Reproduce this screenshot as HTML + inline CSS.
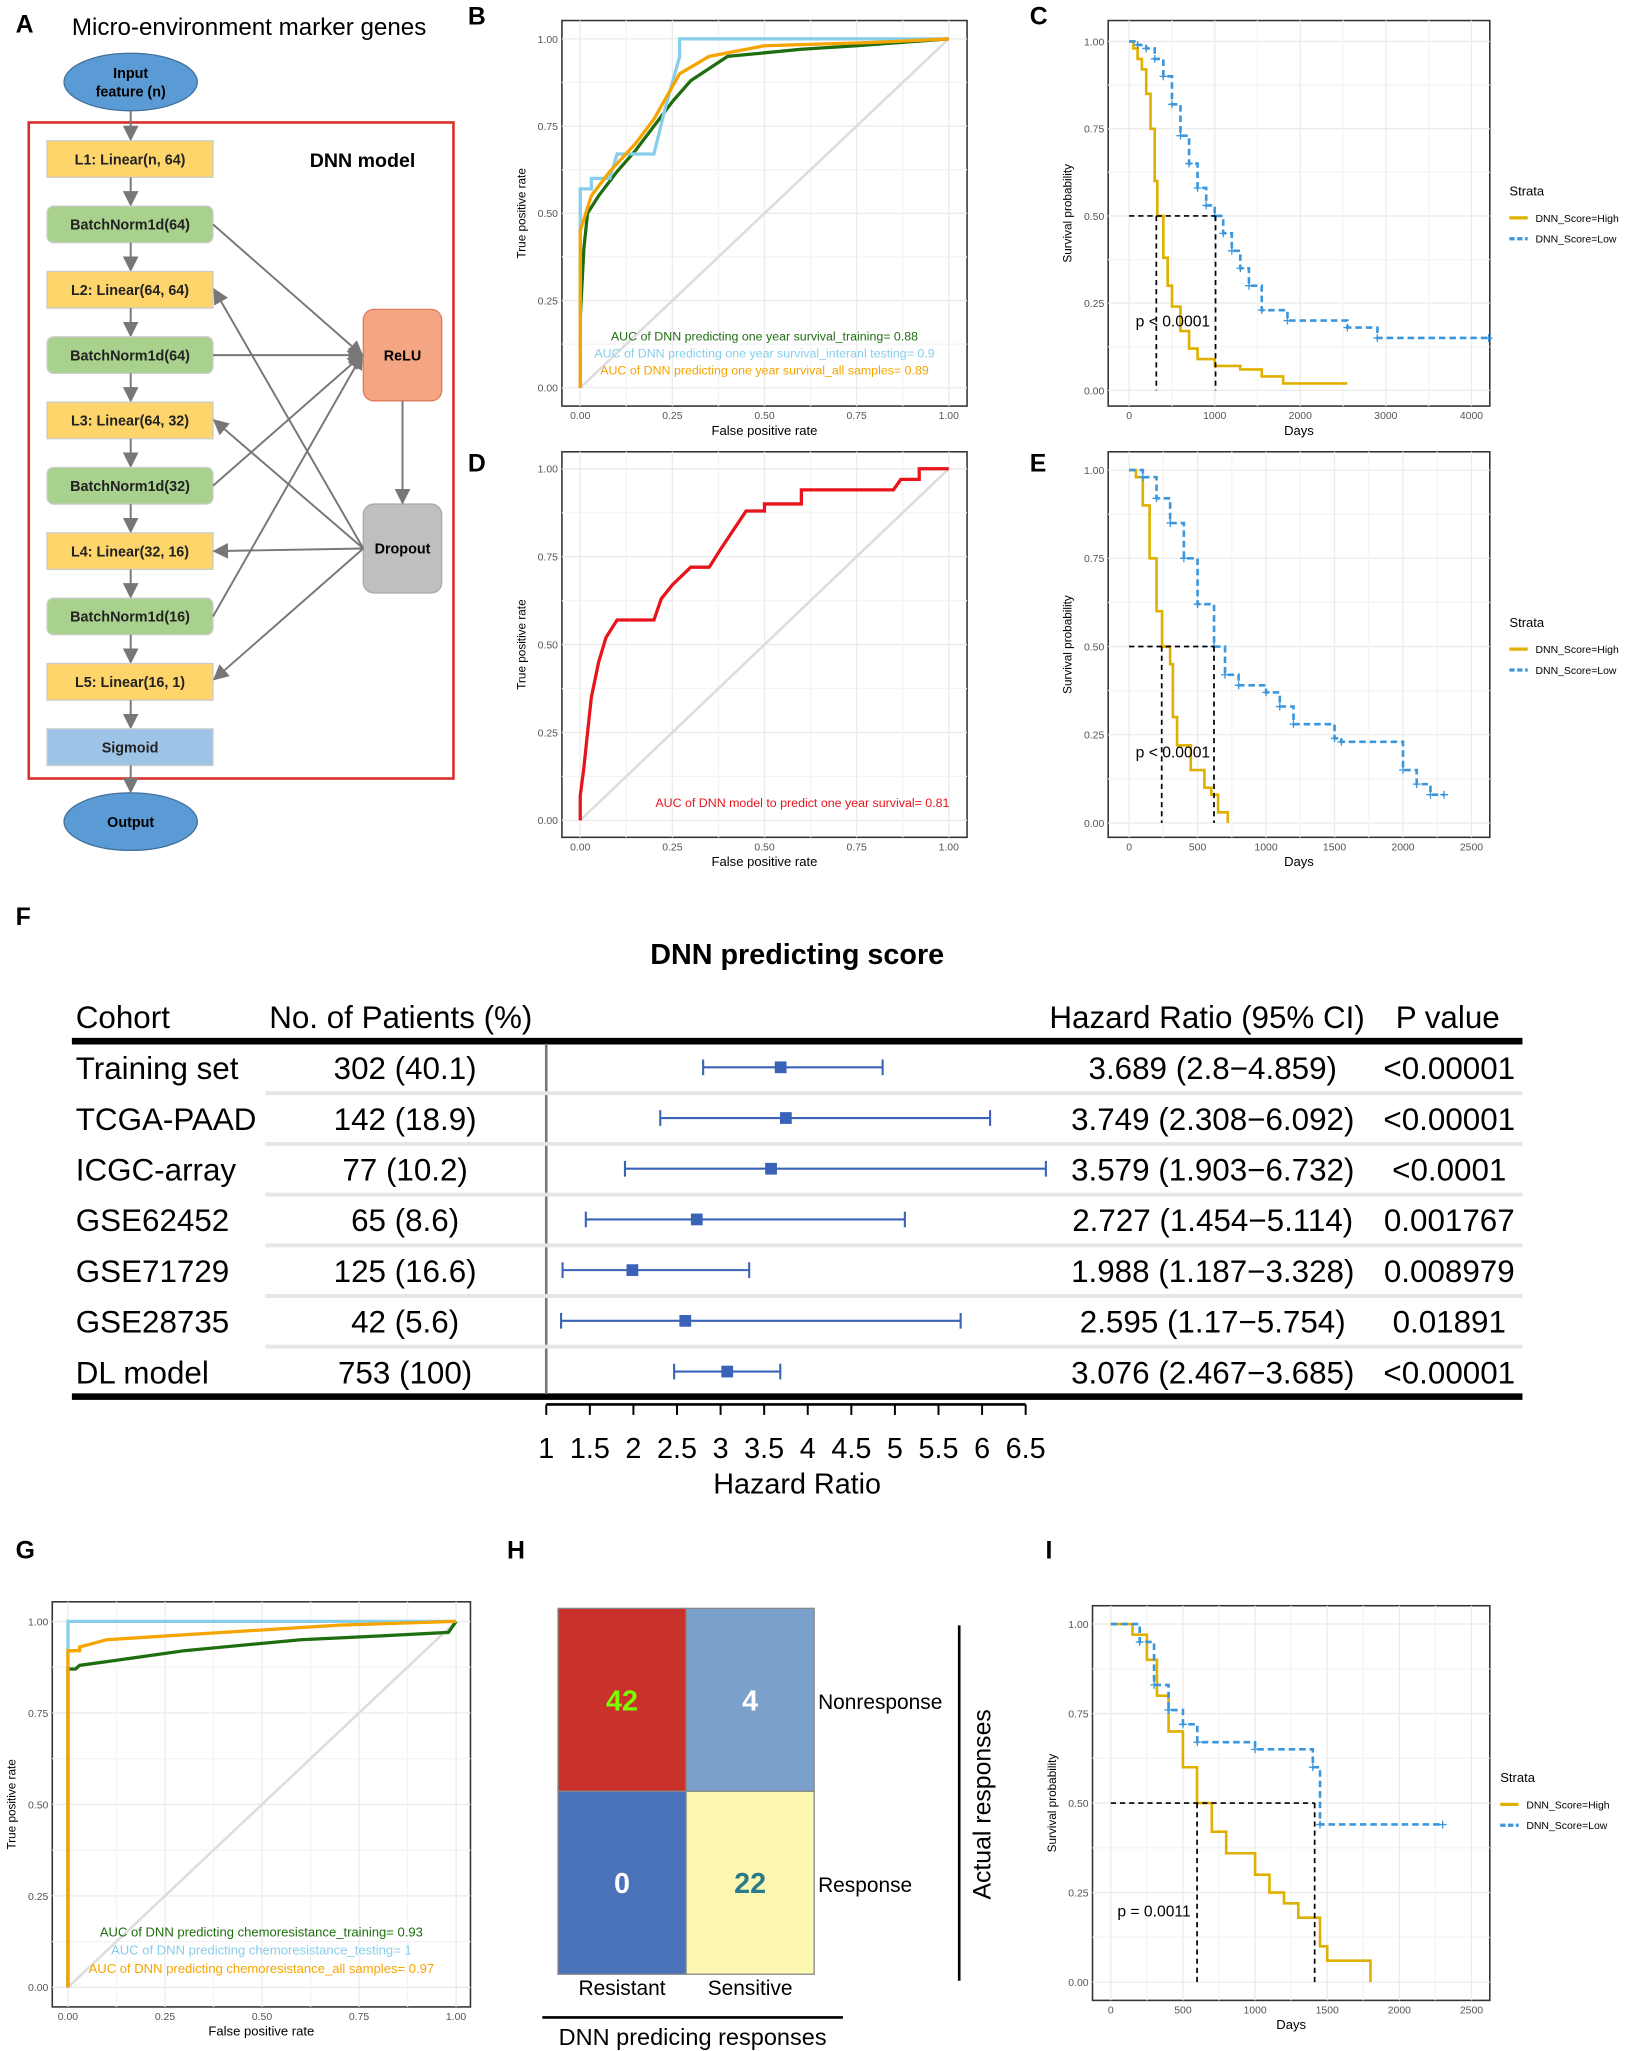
<!DOCTYPE html>
<html><head><meta charset="utf-8"><style>
html,body{margin:0;padding:0;background:#fff;}
svg{display:block;font-family:"Liberation Sans",Arial,sans-serif;}
</style></head><body>
<svg id="fig" width="1627" height="2051" viewBox="0 0 1245 1568" xmlns="http://www.w3.org/2000/svg">
<defs><marker id="ar" markerWidth="8" markerHeight="8" refX="7" refY="4" orient="auto"><path d="M0,0L8,4L0,8z" fill="#777"/></marker></defs>
<g id="panelA"></g>
<g id="plots"></g>
</svg>
<script>
// ---------- DATA ----------
const rocB_train = [[0,0],[0,.2],[.01,.4],[.02,.5],[.05,.55],[.1,.62],[.15,.68],[.2,.75],[.25,.82],[.3,.88],[.4,.95],[.6,.97],[.75,.98],[1,1]];
const rocB_test = [[0,0],[0,.57],[.03,.57],[.03,.6],[.08,.6],[.1,.67],[.2,.67],[.23,.8],[.27,.95],[.27,1],[1,1]];
const rocB_all = [[0,0],[0,.45],[.03,.55],[.08,.62],[.15,.7],[.2,.77],[.27,.9],[.35,.95],[.5,.98],[.8,.99],[1,1]];
const rocD = [[0,0],[0,.07],[.01,.15],[.02,.25],[.03,.35],[.05,.45],[.07,.52],[.1,.57],[.2,.57],[.22,.63],[.25,.67],[.3,.72],[.35,.72],[.38,.77],[.45,.88],[.5,.88],[.5,.9],[.6,.9],[.6,.94],[.85,.94],[.87,.97],[.92,.97],[.92,1],[1,1]];
const rocG_test = [[0,0],[0,1],[1,1]];
const rocG_all = [[0,0],[0,.92],[.03,.92],[.03,.93],[.1,.95],[.25,.96],[.7,.99],[1,1]];
const rocG_train = [[0,0],[0,.87],[.02,.87],[.03,.88],[.1,.89],[.3,.92],[.6,.95],[.8,.96],[.98,.97],[1,1]];
const kmC_high = [[0,1],[50,.98],[100,.95],[150,.92],[200,.85],[250,.75],[300,.6],[330,.5],[400,.38],[450,.3],[500,.24],[600,.17],[700,.12],[800,.09],[1000,.07],[1300,.06],[1550,.04],[1800,.02],[2550,.02]];
const kmC_low = [[0,1],[100,.99],[200,.98],[300,.95],[400,.9],[500,.82],[600,.73],[700,.65],[800,.58],[900,.53],[1000,.5],[1100,.45],[1200,.4],[1300,.35],[1400,.3],[1550,.23],[1850,.2],[2550,.18],[2900,.15],[4200,.15]];
const kmE_high = [[0,1],[50,.98],[100,.9],[150,.75],[200,.6],[240,.5],[300,.45],[320,.3],[350,.22],[450,.15],[550,.1],[600,.08],[650,.03],[720,0]];
const kmE_low = [[0,1],[100,.98],[200,.92],[300,.85],[400,.75],[500,.62],[620,.5],[700,.42],[800,.39],[1000,.37],[1100,.33],[1200,.28],[1500,.24],[1550,.23],[2000,.15],[2100,.11],[2200,.08],[2300,.08]];
const kmI_high = [[0,1],[150,.97],[250,.9],[320,.8],[400,.7],[500,.6],[598,.5],[700,.42],[800,.36],[1000,.3],[1100,.25],[1200,.22],[1300,.18],[1450,.1],[1500,.06],[1800,0]];
const kmI_low = [[0,1],[200,.95],[300,.83],[400,.76],[500,.72],[600,.67],[1000,.65],[1400,.6],[1450,.44],[2300,.44]];
const cohorts = ["Training set","TCGA-PAAD","ICGC-array","GSE62452","GSE71729","GSE28735","DL model"];
const patients = ["302 (40.1)","142 (18.9)","77 (10.2)","65 (8.6)","125 (16.6)","42 (5.6)","753 (100)"];
const hr = [3.689,3.749,3.579,2.727,1.988,2.595,3.076];
const hrLo = [2.8,2.308,1.903,1.454,1.187,1.17,2.467];
const hrHi = [4.859,6.092,6.732,5.114,3.328,5.754,3.685];
const hrText = ["3.689 (2.8−4.859)","3.749 (2.308−6.092)","3.579 (1.903−6.732)","2.727 (1.454−5.114)","1.988 (1.187−3.328)","2.595 (1.17−5.754)","3.076 (2.467−3.685)"];
const pvals = ["<0.00001","<0.00001","<0.0001","0.001767","0.008979","0.01891","<0.00001"];
const hrTicks = [1,1.5,2,2.5,3,3.5,4,4.5,5,5.5,6,6.5];
const confVals = [42,4,0,22];

// ---------- helpers ----------
const NS="http://www.w3.org/2000/svg";
function el(tag,attrs,parent,text){const e=document.createElementNS(NS,tag);for(const k in attrs)e.setAttribute(k,attrs[k]);if(text!==undefined)e.textContent=text;(parent||document.getElementById('plots')).appendChild(e);return e;}
function txt(x,y,s,size,opt,parent){opt=opt||{};const a={x:x,y:y,'font-size':size,fill:opt.fill||'#000'};if(opt.anchor)a['text-anchor']=opt.anchor;if(opt.weight)a['font-weight']=opt.weight;if(opt.rot)a.transform='rotate('+opt.rot+' '+x+' '+y+')';return el('text',a,parent,s);}

// ---------- panel labels ----------
[["A",12,24],["B",358,18],["C",788,18],["D",358,360],["E",788,360],["F",12,707],["G",12,1192],["H",388,1192],["I",800,1192]].forEach(p=>{
 const t=txt(p[1],p[2],p[0],19,{weight:'bold'});
 
 
});

// ---------- Panel A ----------
(function(){
 const g=document.getElementById('panelA');
 txt(55,26,"Micro-environment marker genes",18.5,{},g);
 const inp=el('ellipse',{cx:100,cy:62,rx:51,ry:22,fill:'#5b9bd5',stroke:'#41719c'},g);
 
 txt(100,59,"Input",11,{anchor:'middle',weight:'bold'},g);txt(100,73,"feature (n)",11,{anchor:'middle',weight:'bold'},g);
 const box=el('rect',{x:22,y:93,width:325,height:502,fill:'none',stroke:'#d9302c','stroke-width':2},g);
 
 txt(237,127,"DNN model",15,{weight:'bold'},g);
 const layers=[["L1: Linear(n, 64)",'#fdd56a'],["BatchNorm1d(64)",'#a9d18e'],["L2: Linear(64, 64)",'#fdd56a'],["BatchNorm1d(64)",'#a9d18e'],["L3: Linear(64, 32)",'#fdd56a'],["BatchNorm1d(32)",'#a9d18e'],["L4: Linear(32, 16)",'#fdd56a'],["BatchNorm1d(16)",'#a9d18e'],["L5: Linear(16, 1)",'#fdd56a'],["Sigmoid",'#9dc3e6']];
 el('line',{x1:100,y1:84,x2:100,y2:106,stroke:'#777','stroke-width':1.5,'marker-end':'url(#ar)'},g);
 layers.forEach((l,i)=>{const y=107+i*50;
  const r=el('rect',{x:36,y:y,width:127,height:28,rx:l[1]=='#a9d18e'?5:0,fill:l[1],stroke:'#ccc'},g);
  
  txt(99.5,y+18,l[0],11,{anchor:'middle',weight:'bold',fill:'#222'},g);
  if(i<9) el('line',{x1:100,y1:y+28,x2:100,y2:y+49,stroke:'#777','stroke-width':1.5,'marker-end':'url(#ar)'},g);
 });
 el('line',{x1:100,y1:585,x2:100,y2:605,stroke:'#777','stroke-width':1.5,'marker-end':'url(#ar)'},g);
 const out=el('ellipse',{cx:100,cy:628,rx:51,ry:22,fill:'#5b9bd5',stroke:'#41719c'},g);
 
 txt(100,632,"Output",11,{anchor:'middle',weight:'bold'},g);
 const relu=el('rect',{x:278,y:236,width:60,height:70,rx:8,fill:'#f4a582',stroke:'#e07a5f'},g);
 
 txt(308,275,"ReLU",11,{anchor:'middle',weight:'bold'},g);
 const dr=el('rect',{x:278,y:385,width:60,height:68,rx:8,fill:'#bfbfbf',stroke:'#aaa'},g);
 
 txt(308,423,"Dropout",11,{anchor:'middle',weight:'bold'},g);
 [171,271,371,471].forEach(y=>el('line',{x1:163,y1:y,x2:277,y2:271,stroke:'#777','stroke-width':1.5,'marker-end':'url(#ar)'},g));
 [221,321,421,519].forEach(y=>el('line',{x1:278,y1:419,x2:164,y2:y,stroke:'#777','stroke-width':1.5,'marker-end':'url(#ar)'},g));
 el('line',{x1:308,y1:306,x2:308,y2:384,stroke:'#777','stroke-width':1.5,'marker-end':'url(#ar)'},g);
})();

// ---------- generic plot frame ----------
function frame(name,fx,fy,fw,fh,x0,x1,y1px,y0px,xt,xmax,xlab,ylab){
 const g=el('g',{});
 
 el('rect',{x:fx,y:fy,width:fw,height:fh,fill:'#fff',stroke:'#333','stroke-width':1.2},g);
 const X=v=>x0+(x1-x0)*v/xmax, Y=v=>y0px-(y0px-y1px)*v;
 [0,.25,.5,.75,1].forEach(v=>{el('line',{x1:fx,x2:fx+fw,y1:Y(v),y2:Y(v),stroke:'#ebebeb'},g);
   txt(fx-3,Y(v)+3,v.toFixed(2),8,{anchor:'end',fill:'#555'},g);});
 [.125,.375,.625,.875].forEach(v=>el('line',{x1:fx,x2:fx+fw,y1:Y(v),y2:Y(v),stroke:'#f4f4f4'},g));
 xt.forEach(v=>{el('line',{x1:X(v),x2:X(v),y1:fy,y2:fy+fh,stroke:'#ebebeb'},g);
   txt(X(v),fy+fh+10,String(v),8,{anchor:'middle',fill:'#555'},g);});
 for(let i=0;i<xt.length-1;i++){const m=(xt[i]+xt[i+1])/2;el('line',{x1:X(m),x2:X(m),y1:fy,y2:fy+fh,stroke:'#f4f4f4'},g);}
 const xl=txt(fx+fw/2,fy+fh+22,xlab,10,{anchor:'middle'},g);
 const yl=txt(fx-28,fy+fh/2,ylab,9,{anchor:'middle',rot:-90},g);
 return {g,X,Y};
}
function line(p,pts,color,w,name,dash){
 const d=pts.map((q,i)=>(i?'L':'M')+p.X(q[0]).toFixed(1)+','+p.Y(q[1]).toFixed(1)).join('');
 const e=el('path',{d:d,fill:'none',stroke:color,'stroke-width':w},p.g);
 if(dash)e.setAttribute('stroke-dasharray',dash);
 return e;
}
function step(p,pts,color,name,dash,cens){
 let d='M'+p.X(pts[0][0])+','+p.Y(pts[0][1]);
 for(let i=1;i<pts.length;i++){d+='L'+p.X(pts[i][0]).toFixed(1)+','+p.Y(pts[i-1][1]).toFixed(1)+'L'+p.X(pts[i][0]).toFixed(1)+','+p.Y(pts[i][1]).toFixed(1);}
 const e=el('path',{d:d,fill:'none',stroke:color,'stroke-width':2},p.g);
 if(dash)e.setAttribute('stroke-dasharray',dash);
 
 if(cens)pts.slice(1).forEach(q=>{const x=p.X(q[0]),y=p.Y(q[1]);el('path',{d:`M${x-3},${y}h6M${x},${y-3}v6`,stroke:color,'stroke-width':1},p.g);});
}
function median(p,a,b){
 el('path',{d:`M${p.X(0)},${p.Y(.5)}H${p.X(b)}M${p.X(a)},${p.Y(.5)}V${p.Y(0)}M${p.X(b)},${p.Y(.5)}V${p.Y(0)}`,fill:'none',stroke:'#000','stroke-width':1.3,'stroke-dasharray':'4,3'},p.g);
}
function legend(x,y){
 const g=el('g',{});
 txt(x,y,"Strata",10,{},g);
 el('line',{x1:x,x2:x+14,y1:y+17,y2:y+17,stroke:'#e0b000','stroke-width':2.5},g);
 txt(x+20,y+20,"DNN_Score=High",8,{},g);
 el('line',{x1:x,x2:x+14,y1:y+33,y2:y+33,stroke:'#3a96dd','stroke-width':2.5,'stroke-dasharray':'4,2'},g);
 txt(x+20,y+36,"DNN_Score=Low",8,{},g);
}
const ORANGE='#f5a400',GREEN='#1e6e10',LBLUE='#87ceeb',KMY='#e0b000',KMB='#3a96dd';
function fmtX(g){g.querySelectorAll('text').forEach(t=>{if(['0','0.25','0.5','0.75','1'].includes(t.textContent)&&t.getAttribute('text-anchor')==='middle')t.textContent=(+t.textContent).toFixed(2);});}

// B
let p=frame('roc-panel-b',430,15,310,295,444,726,29,296,[0,.25,.5,.75,1],1,"False positive rate","True positive rate");
fmtX(p.g);
line(p,[[0,0],[1,1]],'#ddd',2,'diagonal');
line(p,rocB_train,GREEN,2.5,'roc-training');line(p,rocB_test,LBLUE,2.5,'roc-testing');line(p,rocB_all,ORANGE,2.5,'roc-all');
txt(585,260,"AUC of DNN predicting one year survival_training= 0.88",9.5,{anchor:'middle',fill:GREEN},p.g);
txt(585,273,"AUC of DNN predicting one year survival_interanl testing= 0.9",9.5,{anchor:'middle',fill:LBLUE},p.g);
txt(585,286,"AUC of DNN predicting one year survival_all samples= 0.89",9.5,{anchor:'middle',fill:ORANGE},p.g);

// C
p=frame('km-panel-c',848,15,292,295,864,1126,31,298,[0,1000,2000,3000,4000],4000,"Days","Survival probability");
step(p,kmC_high,KMY,'km-high');step(p,kmC_low,KMB,'km-low','5,3',true);median(p,318,1010);
txt(869,249,"p < 0.0001",12,{},p.g);legend(1155,149);

// D
p=frame('roc-panel-d',430,345,310,295,444,726,358,627,[0,.25,.5,.75,1],1,"False positive rate","True positive rate");
fmtX(p.g);line(p,[[0,0],[1,1]],'#ddd',2,'diagonal');line(p,rocD,'#e8141c',2.5,'roc-curve');
txt(614,617,"AUC of DNN model to predict one year survival= 0.81",9.5,{anchor:'middle',fill:'#e8141c'},p.g);

// E
p=frame('km-panel-e',848,345,292,295,864,1126,359,629,[0,500,1000,1500,2000,2500],2500,"Days","Survival probability");
step(p,kmE_high,KMY,'km-high');step(p,kmE_low,KMB,'km-low','5,3',true);median(p,238,620);
txt(869,579,"p < 0.0001",12,{},p.g);legend(1155,479);

// G
p=frame('roc-panel-g',40,1225,320,310,52,349,1240,1520,[0,.25,.5,.75,1],1,"False positive rate","True positive rate");
fmtX(p.g);line(p,[[0,0],[1,1]],'#ddd',2,'diagonal');
line(p,rocG_test,LBLUE,2.5,'roc-testing');line(p,rocG_train,GREEN,2.5,'roc-training');line(p,rocG_all,ORANGE,2.5,'roc-all');
txt(200,1481,"AUC of DNN predicting chemoresistance_training= 0.93",10,{anchor:'middle',fill:GREEN},p.g);
txt(200,1495,"AUC of DNN predicting chemoresistance_testing= 1",10,{anchor:'middle',fill:LBLUE},p.g);
txt(200,1509,"AUC of DNN predicting chemoresistance_all samples= 0.97",10,{anchor:'middle',fill:ORANGE},p.g);

// I
p=frame('km-panel-i',836,1228,304,302,850,1126,1242,1516,[0,500,1000,1500,2000,2500],2500,"Days","Survival probability");
step(p,kmI_high,KMY,'km-high');step(p,kmI_low,KMB,'km-low','5,3',true);median(p,598,1413);
txt(855,1466,"p = 0.0011",12,{},p.g);legend(1148,1363);

// ---------- F forest ----------
(function(){
 const g=el('g',{});
 const t=txt(610,737,"DNN predicting score",22,{anchor:'middle',weight:'bold'},g);
 txt(58,786,"Cohort",24,{},g);txt(206,786,"No. of Patients (%)",24,{},g);txt(803,786,"Hazard Ratio (95% CI)",24,{},g);txt(1068,786,"P value",24,{},g);
 el('line',{x1:55,x2:1165,y1:796,y2:796,stroke:'#000','stroke-width':5},g);
 el('line',{x1:55,x2:1165,y1:1068,y2:1068,stroke:'#000','stroke-width':5},g);
 const X=v=>418+(v-1)*66.7;
 el('line',{x1:418,x2:418,y1:798,y2:1066,stroke:'#777','stroke-width':2},g);
 cohorts.forEach((c,i)=>{const y=816+i*38.8;
  if(i>0)el('line',{x1:203,x2:1165,y1:y-19,y2:y-19,stroke:'#e6e6e6','stroke-width':3},g);
  txt(58,y+9,c,24,{},g);txt(310,y+9,patients[i],24,{anchor:'middle'},g);
  txt(928,y+9,hrText[i],24,{anchor:'middle'},g);txt(1109,y+9,pvals[i],24,{anchor:'middle'},g);
  const ci=el('path',{d:`M${X(hrLo[i])},${y-6}v12M${X(hrLo[i])},${y}H${X(hrHi[i])}M${X(hrHi[i])},${y-6}v12`,stroke:'#3a63b8','stroke-width':1.6,fill:'none'},g);
  
  const s=el('rect',{x:X(hr[i])-4.5,y:y-4.5,width:9,height:9,fill:'#3a63b8'},g);
  
 });
 el('line',{x1:X(1),x2:X(6.5),y1:1074,y2:1074,stroke:'#000','stroke-width':2},g);
 hrTicks.forEach(v=>{el('line',{x1:X(v),x2:X(v),y1:1074,y2:1082,stroke:'#000','stroke-width':1.5},g);txt(X(v),1115,String(v),22,{anchor:'middle'},g);});
 const xl=txt(610,1142,"Hazard Ratio",22,{anchor:'middle'},g);
})();

// ---------- H confusion ----------
(function(){
 const g=el('g',{});
 const cols=['#c8322a','#7ba0cc','#4a72b8','#fbf6b0'],tc=['#7cfc00','#fff','#fff','#2a7a8c'];
 confVals.forEach((v,i)=>{const x=427+(i%2)*98,y=1230+Math.floor(i/2)*140;
  const r=el('rect',{x:x,y:y,width:98,height:140,fill:cols[i],stroke:'#888'},g);
  
  txt(x+49,y+78,String(v),22,{anchor:'middle',fill:tc[i],weight:'bold'},g);});
 txt(626,1307,"Nonresponse",16,{},g);txt(626,1447,"Response",16,{},g);
 txt(476,1526,"Resistant",16,{anchor:'middle'},g);txt(574,1526,"Sensitive",16,{anchor:'middle'},g);
 el('line',{x1:734,x2:734,y1:1243,y2:1515,stroke:'#000','stroke-width':2},g);
 txt(758,1380,"Actual responses",19,{anchor:'middle',rot:-90},g);
 el('line',{x1:415,x2:645,y1:1543,y2:1543,stroke:'#000','stroke-width':2},g);
 txt(530,1564,"DNN predicing responses",18,{anchor:'middle'},g);
})();
</script>
</body></html>
